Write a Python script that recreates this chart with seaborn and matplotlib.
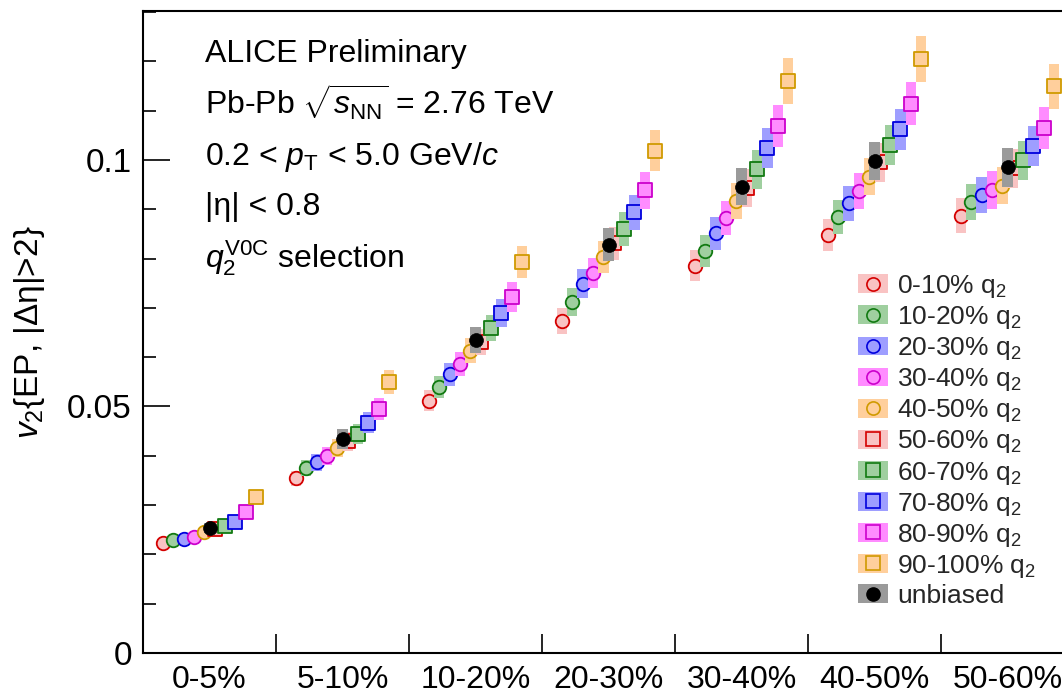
import numpy as np
import pandas as pd
import matplotlib
matplotlib.use("Agg")
import matplotlib.pyplot as plt
import seaborn as sns
from matplotlib.lines import Line2D
from matplotlib.patches import Patch
from matplotlib.ticker import MultipleLocator

# ---------------- data ----------------
centralities = ["0-5%", "5-10%", "10-20%", "20-30%", "30-40%", "40-50%", "50-60%"]
q2_labels = ["0-10%", "10-20%", "20-30%", "30-40%", "40-50%",
             "50-60%", "60-70%", "70-80%", "80-90%", "90-100%"]

v2_q2_00_10 = [0.0223, 0.0354, 0.0512, 0.0673, 0.0785, 0.0848, 0.0887]
v2_q2_10_20 = [0.0229, 0.0375, 0.0540, 0.0711, 0.0816, 0.0884, 0.0915]
v2_q2_20_30 = [0.0231, 0.0387, 0.0565, 0.0749, 0.0851, 0.0912, 0.0929]
v2_q2_30_40 = [0.0235, 0.0400, 0.0586, 0.0771, 0.0882, 0.0936, 0.0939]
v2_q2_40_50 = [0.0245, 0.0416, 0.0613, 0.0803, 0.0917, 0.0966, 0.0948]
v2_q2_50_60 = [0.0251, 0.0429, 0.0631, 0.0831, 0.0943, 0.0995, 0.0983]
v2_q2_60_70 = [0.0258, 0.0444, 0.0659, 0.0860, 0.0981, 0.1030, 0.0999]
v2_q2_70_80 = [0.0265, 0.0467, 0.0689, 0.0894, 0.1024, 0.1062, 0.1028]
v2_q2_80_90 = [0.0285, 0.0495, 0.0722, 0.0938, 0.1069, 0.1114, 0.1064]
v2_q2_90_100 = [0.0317, 0.0549, 0.0792, 0.1019, 0.1160, 0.1204, 0.1149]
v2_unbiased = [0.0254, 0.0434, 0.0635, 0.0828, 0.0946, 0.0998, 0.0985]

# relative systematic uncertainty per centrality class
sys_rel = [0.040, 0.045, 0.041, 0.040, 0.040, 0.039, 0.040]

q2_values = [v2_q2_00_10, v2_q2_10_20, v2_q2_20_30, v2_q2_30_40, v2_q2_40_50,
             v2_q2_50_60, v2_q2_60_70, v2_q2_70_80, v2_q2_80_90, v2_q2_90_100]

# ---------------- style ----------------
edge_colors = ["#d40000", "#117a11", "#0000dd", "#cc00cc", "#d09a00"] * 2
fill_colors = ["#f9c3c3", "#9fcf9f", "#9e9eff", "#ff8cff", "#ffcf9c"] * 2
markers = ["o"] * 5 + ["s"] * 5

sns.set_theme(style="ticks")
plt.rcParams["font.family"] = ["Liberation Sans", "DejaVu Sans"]
plt.rcParams["mathtext.fontset"] = "custom"
plt.rcParams["mathtext.rm"] = "Liberation Sans"
plt.rcParams["mathtext.it"] = "Liberation Sans:italic"
plt.rcParams["mathtext.bf"] = "Liberation Sans:bold"
plt.rcParams["mathtext.sf"] = "Liberation Sans"

W, H = 1062, 697
fig = plt.figure(figsize=(W / 100, H / 100), dpi=100)
ax = fig.add_axes([143 / W, 44 / H, 931 / W, 642 / H])
fig.patch.set_facecolor("white")

step = 0.078
cat = np.arange(len(centralities)) + 0.5
sys_rel_arr = np.array(sys_rel)

z = 2
for k, vals in enumerate(q2_values):
    v = np.array(vals)
    x = cat + (k - 4.5) * step
    err = v * sys_rel_arr
    ax.bar(x, 2 * err, bottom=v - err, width=step, color=fill_colors[k],
           linewidth=0, zorder=z)
    df = pd.DataFrame({"x": x, "v2": v})
    ms = 95 if markers[k] == "o" else 110
    sns.scatterplot(data=df, x="x", y="v2", marker=markers[k], s=ms,
                    color=fill_colors[k], edgecolor=edge_colors[k],
                    linewidth=1.3, zorder=z + 1, ax=ax, legend=False)
    z += 2

# unbiased
v = np.array(v2_unbiased)
err = v * sys_rel_arr
ax.bar(cat, 2 * err, bottom=v - err, width=step, color="#9a9a9a",
       linewidth=0, zorder=z)
sns.scatterplot(data=pd.DataFrame({"x": cat, "v2": v}), x="x", y="v2",
                marker="o", s=100, color="black", edgecolor="black",
                linewidth=0.5, zorder=z + 1, ax=ax, legend=False)

# ---------------- axes ----------------
ax.set_xlim(0, 7)
ax.set_ylim(0, 0.1302)
ax.set_xticks(cat)
ax.set_xticklabels(centralities)
ax.set_xticks(np.arange(1, 7), minor=True)
ax.tick_params(axis="x", which="major", length=0, pad=9, labelsize=23,
               colors="black")
ax.tick_params(axis="x", which="minor", length=14, width=1.2,
               direction="in", colors="black")
ax.set_yticks([0, 0.05, 0.1])
ax.set_yticklabels(["0", "0.05", "0.1"])
ax.yaxis.set_minor_locator(MultipleLocator(0.01))
ax.tick_params(axis="y", which="major", length=19.5, width=1.2,
               direction="in", pad=8, labelsize=24, colors="black")
ax.tick_params(axis="y", which="minor", length=9.5, width=1.2,
               direction="in", colors="black")
for s in ["left", "bottom", "top"]:
    ax.spines[s].set_linewidth(1.5)
    ax.spines[s].set_color("black")
ax.spines["right"].set_visible(False)
ax.set_xlabel("")
ax.set_ylabel("$v_2${EP, |Δη|>2}", fontsize=24, color="black")
ax.yaxis.set_label_coords(-0.103, 0.5)

# ---------------- text ----------------
lines = [
    "ALICE Preliminary",
    r"Pb-Pb $\sqrt{s_{\mathrm{NN}}}$ = 2.76 TeV",
    r"0.2 < $p_{\mathrm{T}}$ < 5.0 GeV/$c$",
    "|η| < 0.8",
    r"$q_{2}^{\mathrm{V0C}}$ selection",
]
ypos = [0.9206, 0.8380, 0.7601, 0.6822, 0.5997]
for t, yy in zip(lines, ypos):
    ax.text(0.0666, yy, t, transform=ax.transAxes, fontsize=23,
            va="baseline", ha="left", color="black")

# ---------------- legend ----------------
handles = []
labels = []
for k in range(10):
    handles.append((Patch(facecolor=fill_colors[k], edgecolor="none"),
                    Line2D([], [], marker=markers[k], ls="none",
                           color=edge_colors[k], mfc=fill_colors[k],
                           ms=9.5 if markers[k] == "o" else 10, mew=1.2)))
    labels.append(q2_labels[k] + " q$_2$")
handles.append((Patch(facecolor="#9a9a9a", edgecolor="none"),
                Line2D([], [], marker="o", ls="none", color="black", ms=9.5)))
labels.append("unbiased")

fs = 19
fs_px = fs * 100 / 72
leg = fig.legend(handles, labels, loc="upper left",
                 bbox_to_anchor=(858 / W, 1 - 273 / H),
                 bbox_transform=fig.transFigure, frameon=False,
                 fontsize=fs, handlelength=30 / fs_px, handleheight=19 / fs_px,
                 handletextpad=9 / fs_px, labelspacing=0.155,
                 borderpad=0, borderaxespad=0)

fig.savefig("out.png", dpi=100)
